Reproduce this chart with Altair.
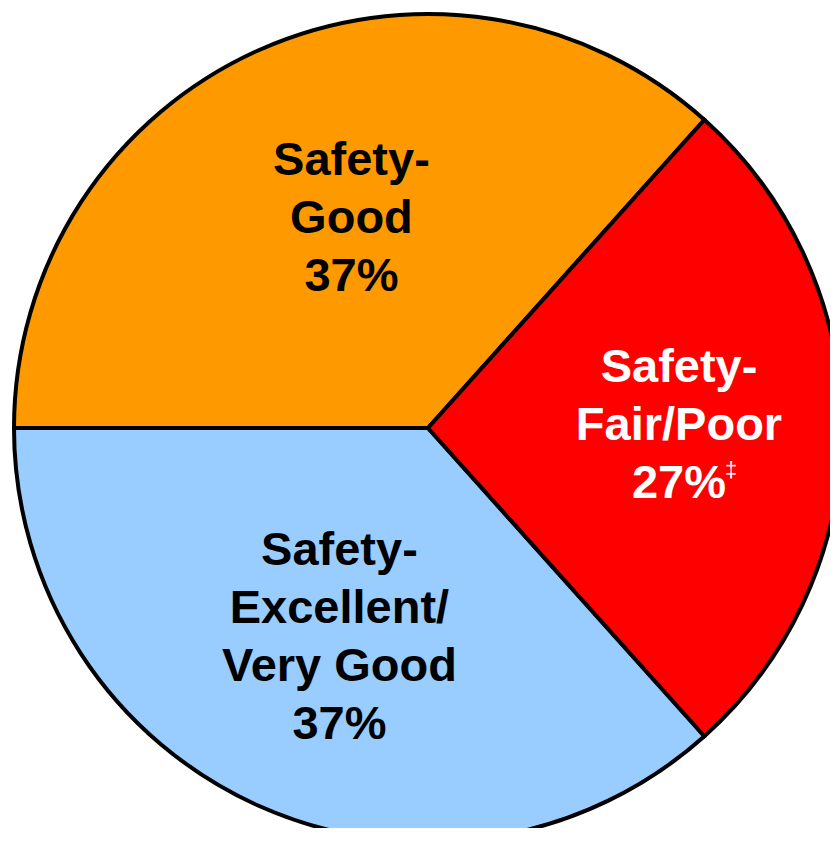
import math
import altair as alt
import pandas as pd

# ---- data ----
categories = ["Safety-Excellent/Very Good", "Safety-Good", "Safety-Fair/Poor"]
values = [37, 37, 27]
labels = ["Safety-\nExcellent/\nVery Good\n37%", "Safety-\nGood\n37%", "Safety-\nFair/Poor\n27%"]
notes = ["", "", "\u2021"]
order = [0, 1, 2]
colors = ["#99CCFF", "#FF9900", "#FF0000"]

df = pd.DataFrame({"category": categories, "value": values, "label": labels,
                   "note": notes, "order": order})

# rotate so the Fair/Poor slice is centred on the right-hand side
total = sum(values)
offset = math.pi / 2 + math.pi * values[2] / total
theta_scale = alt.Scale(range=[offset, offset + 2 * math.pi])

cx, cy = 420, 420

pie = alt.Chart(df).mark_arc(
    radius=414, stroke="black", strokeWidth=4, strokeJoin="miter"
).encode(
    theta=alt.Theta("value:Q", stack=True, scale=theta_scale),
    order=alt.Order("order:Q"),
    x=alt.value(cx),
    y=alt.value(cy),
    color=alt.Color("category:N", scale=alt.Scale(domain=categories, range=colors), legend=None),
)

tbase = alt.Chart(df).transform_window(
    cum="sum(value)", sort=[alt.SortField("order")], frame=[None, 0]
).transform_calculate(
    mid="datum.cum - datum.value / 2"
).encode(
    theta=alt.Theta("mid:Q", stack=False, scale=theta_scale),
    x=alt.value(cx),
    y=alt.value(cy),
)

txt_kw = dict(font="Liberation Sans", fontWeight="bold", fontSize=47, lineHeight=58,
              lineBreak="\n", align="center", baseline="middle")


def label_layer(cat, radius, color, dx, dy):
    return tbase.transform_filter(alt.datum.category == cat).mark_text(
        radius=radius, color=color, dx=dx, dy=dy, **txt_kw
    ).encode(text="label:N")


lab_blue = label_layer(categories[0], 227, "black", 4, -84)
lab_orange = label_layer(categories[1], 227, "black", 16, -60)
lab_red = label_layer(categories[2], 250, "white", 1, -60)

note_label = tbase.transform_filter(
    alt.datum.category == categories[2]
).mark_text(radius=250, color="white", font="Liberation Sans", fontSize=22,
            align="center", baseline="middle", dx=53, dy=42).encode(text="note:N")

chart = alt.layer(pie, lab_blue, lab_orange, lab_red, note_label).properties(
    width=822, height=820, autosize="none", padding=0
).configure_view(stroke=None)

chart.save("out.html", embed_options={"renderer": "svg", "actions": False})
